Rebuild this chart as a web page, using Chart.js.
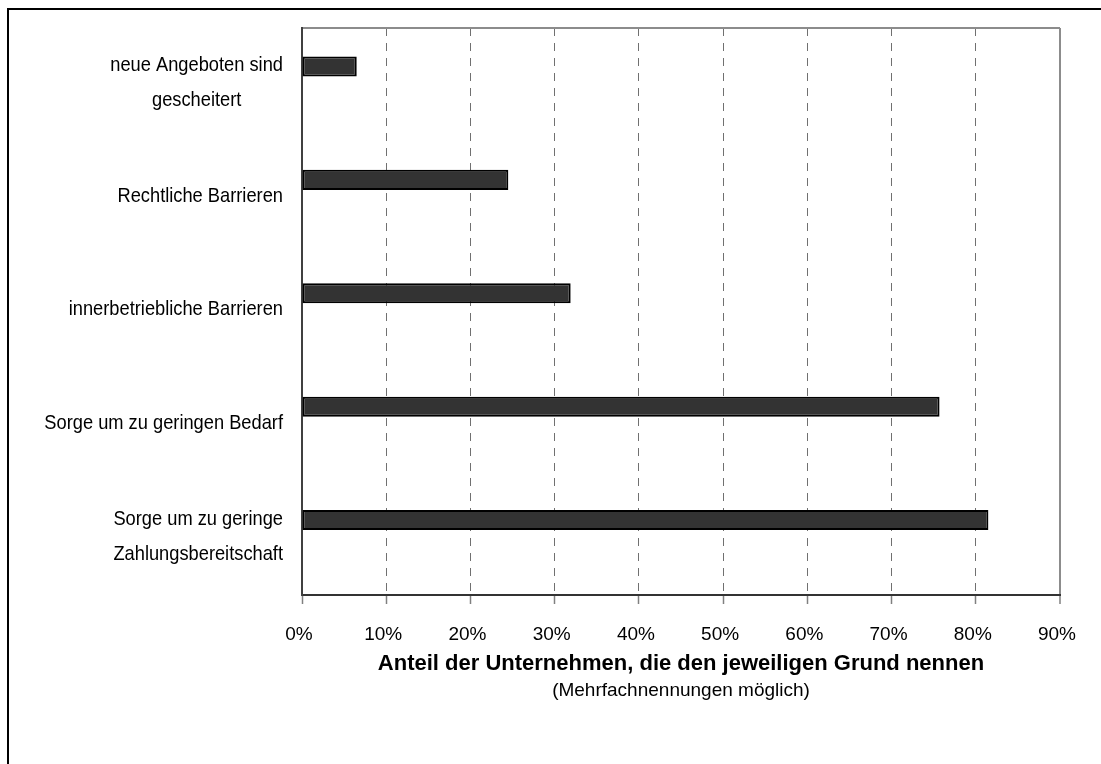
<!DOCTYPE html>
<html>
<head>
<meta charset="utf-8">
<script src="https://cdn.jsdelivr.net/npm/chart.js@4/dist/chart.umd.min.js"></script>
<style>
  html, body { margin: 0; padding: 0; background: #fff; overflow: hidden; }
  #wrap { position: relative; width: 1101px; height: 764px; }
  #frame { position: absolute; left: 7px; top: 8px; width: 1200px; height: 900px;
           border-left: 2px solid #000; border-top: 2px solid #000; pointer-events: none; }
  canvas { position: absolute; left: 0; top: 0; }
</style>
</head>
<body>
<div id="wrap">
  <div id="frame"></div>
  <canvas id="barChart" width="1101" height="764"></canvas>
</div>
<script>
var FONT = '"Liberation Sans Narrow", "Arial Narrow", "Liberation Sans", sans-serif';

var kategorien = [
  ['neue Angeboten sind', 'gescheitert'],
  'Rechtliche Barrieren',
  'innerbetriebliche Barrieren',
  'Sorge um zu geringen Bedarf',
  ['Sorge um zu geringe', 'Zahlungsbereitschaft']
];
// percent of companies naming the reason
var anteile = [6.5, 24.5, 31.9, 75.7, 81.5];
// empty second series, keeps the second slot of every group free
var zweiteReihe = [null, null, null, null, null];

var achseMin = 0;
var achseMax = 90;
var achseSchritt = 10;

var achsenTitel = 'Anteil der Unternehmen, die den jeweiligen Grund nennen';
var untertitel = '(Mehrfachnennungen möglich)';

// category labels: right aligned block, lines centred inside the block,
// squeezed a bit so they look like a narrow face
var SQUEEZE = 0.87;
var catLabels = {
  id: 'catLabels',
  afterDraw: function (chart) {
    var ctx = chart.ctx;
    var y = chart.scales.y;
    var left = chart.chartArea.left;
    ctx.save();
    ctx.font = '21px ' + FONT;
    ctx.fillStyle = '#000';
    ctx.textAlign = 'center';
    ctx.textBaseline = 'middle';
    kategorien.forEach(function (lab, i) {
      var lines = [].concat(lab);
      var w = Math.max.apply(null, lines.map(function (l) { return ctx.measureText(l).width; })) * SQUEEZE;
      var cx = left - 19 - w / 2;
      var cy = y.getPixelForTick(i) - 2;
      lines.forEach(function (l, j) {
        ctx.save();
        ctx.translate(cx, cy + (j - (lines.length - 1) / 2) * 35);
        ctx.scale(SQUEEZE, 1);
        ctx.fillText(l, 0, 0);
        ctx.restore();
      });
    });
    ctx.restore();
  }
};

var nTicks = (achseMax - achseMin) / achseSchritt;

var ctx = document.getElementById('barChart').getContext('2d');
new Chart(ctx, {
  type: 'bar',
  data: {
    labels: kategorien,
    datasets: [{
      data: anteile,
      backgroundColor: '#333333',
      borderColor: '#000000',
      borderWidth: 2,
      borderSkipped: false,
      barPercentage: 0.55,
      categoryPercentage: 0.643
    }, {
      data: zweiteReihe,
      backgroundColor: '#999999',
      barPercentage: 0.55,
      categoryPercentage: 0.643
    }]
  },
  options: {
    indexAxis: 'y',
    responsive: false,
    animation: false,
    layout: { padding: { left: 0, right: 41, top: 28, bottom: 62 } },
    plugins: {
      legend: { display: false },
      tooltip: { enabled: false },
      subtitle: {
        display: true,
        text: untertitel,
        position: 'bottom',
        fullSize: false,
        color: '#000',
        font: { family: FONT, size: 19, weight: 'normal' },
        padding: { top: 2, bottom: 0 }
      }
    },
    scales: {
      x: {
        min: achseMin,
        max: achseMax,
        ticks: {
          stepSize: achseSchritt,
          padding: 19,
          labelOffset: -3,
          color: '#000',
          font: { family: FONT, size: 19 },
          callback: function (v) { return v + '%'; }
        },
        grid: {
          tickLength: 9,
          tickColor: '#808080',
          tickWidth: 1.5,
          color: function (c) {
            if (c.index === 0) return 'rgba(0,0,0,0)';
            return c.index === nTicks ? '#8c8c8c' : '#707070';
          },
          lineWidth: function (c) { return c.index === nTicks ? 2 : 1; }
        },
        border: {
          color: '#333333',
          width: 2,
          dash: function (c) { return c.index === nTicks ? [] : [8, 7]; }
        },
        title: {
          display: true,
          text: achsenTitel,
          color: '#000',
          font: { family: FONT, size: 22, weight: 'bold' },
          padding: { top: -14, bottom: 0 }
        }
      },
      y: {
        ticks: { display: false },
        grid: {
          drawTicks: false,
          color: function (c) { return c.index === 0 ? '#8c8c8c' : 'rgba(0,0,0,0)'; },
          lineWidth: function (c) { return c.index === 0 ? 2 : 0; }
        },
        border: { color: '#404040', width: 2 },
        afterFit: function (scale) { scale.width = 302; }
      }
    }
  },
  plugins: [catLabels]
});
</script>
</body>
</html>
